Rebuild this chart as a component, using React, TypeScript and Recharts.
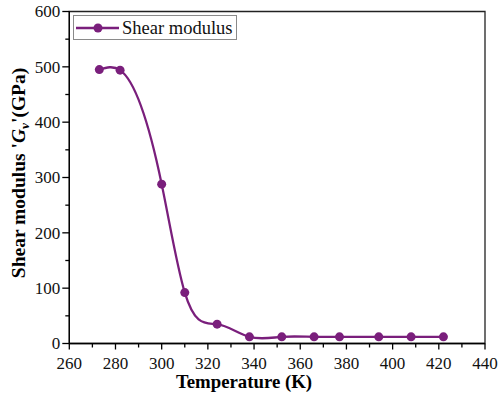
// Shear modulus vs temperature — Origin-style line plot with boxed frame,
// outward major/minor ticks and an inset legend.

import {
  LineChart,
  Line,
  XAxis,
  YAxis,
  Legend,
  ReferenceArea,
} from "recharts";

const temperatures = [273, 282, 300, 310, 324, 338, 352, 366, 377, 394, 408, 422];
const shearModulus = [495, 494, 288, 92, 35, 12, 12, 12, 12, 12, 12, 12];

// major ticks every 20 K / 100 GPa, minor halfway between
const xTicks = [260, 270, 280, 290, 300, 310, 320, 330, 340, 350, 360, 370, 380, 390, 400, 410, 420, 430, 440];
const yTicks = [0, 50, 100, 150, 200, 250, 300, 350, 400, 450, 500, 550, 600];

const data = temperatures.map((t, i) => ({ t, g: shearModulus[i] }));

const PURPLE = "#7a1f7c";
const FONT = '"Liberation Serif", "Times New Roman", serif';

// Origin's "spline" connector is a natural cubic spline of y over x
// (not the parametric one d3/recharts "natural" gives), so build it here.
const splineInX = (context: any) => {
  let xs: number[] = [];
  let ys: number[] = [];
  return {
    areaStart() {},
    areaEnd() {},
    lineStart() {
      xs = [];
      ys = [];
    },
    point(x: number, y: number) {
      xs.push(+x);
      ys.push(+y);
    },
    lineEnd() {
      const n = xs.length;
      if (!n) return;
      context.moveTo(xs[0], ys[0]);
      if (n < 3) {
        if (n === 2) context.lineTo(xs[1], ys[1]);
        return;
      }
      const h: number[] = [];
      for (let i = 0; i < n - 1; i++) h[i] = xs[i + 1] - xs[i];
      const M = new Array(n).fill(0);
      const a: number[] = [], b: number[] = [], c: number[] = [], r: number[] = [];
      for (let i = 1; i < n - 1; i++) {
        a[i] = h[i - 1];
        b[i] = 2 * (h[i - 1] + h[i]);
        c[i] = h[i];
        r[i] = 6 * ((ys[i + 1] - ys[i]) / h[i] - (ys[i] - ys[i - 1]) / h[i - 1]);
      }
      for (let i = 2; i < n - 1; i++) {
        const m = a[i] / b[i - 1];
        b[i] -= m * c[i - 1];
        r[i] -= m * r[i - 1];
      }
      M[n - 2] = r[n - 2] / b[n - 2];
      for (let i = n - 3; i >= 1; i--) M[i] = (r[i] - c[i] * M[i + 1]) / b[i];
      for (let i = 0; i < n - 1; i++) {
        const s = (ys[i + 1] - ys[i]) / h[i];
        const d0 = s - (h[i] * (2 * M[i] + M[i + 1])) / 6;
        const d1 = s + (h[i] * (M[i] + 2 * M[i + 1])) / 6;
        context.bezierCurveTo(
          xs[i] + h[i] / 3,
          ys[i] + (h[i] * d0) / 3,
          xs[i + 1] - h[i] / 3,
          ys[i + 1] - (h[i] * d1) / 3,
          xs[i + 1],
          ys[i + 1]
        );
      }
    },
  };
};

const XTick = ({ x, y, payload }: any) => {
  const major = payload.value % 20 === 0;
  return (
    <g>
      <line x1={x} x2={x} y1={y} y2={y + (major ? 6 : 4)} stroke="#000" strokeWidth={1.3} />
      {major && (
        <text x={x} y={y + 25} textAnchor="middle" style={{ fontFamily: FONT, fontSize: 17 }} fill="#111">
          {payload.value}
        </text>
      )}
    </g>
  );
};

const YTick = ({ x, y, payload }: any) => {
  const major = payload.value % 100 === 0;
  return (
    <g>
      <line x1={x} x2={x - (major ? 7 : 4)} y1={y} y2={y} stroke="#000" strokeWidth={1.3} />
      {major && (
        <text x={x - 9} y={y} dy="0.35em" textAnchor="end" style={{ fontFamily: FONT, fontSize: 17 }} fill="#111">
          {payload.value}
        </text>
      )}
    </g>
  );
};

const XTitle = () => (
  <text x={244} y={388} textAnchor="middle" style={{ fontFamily: FONT, fontSize: 18.8, fontWeight: "bold" }} fill="#000">
    Temperature (K)
  </text>
);

const YTitle = () => (
  <text
    x={25}
    y={173}
    transform="rotate(-90 25 173)"
    textAnchor="middle"
    style={{ fontFamily: FONT, fontSize: 19.5, fontWeight: "bold" }}
    fill="#000"
  >
    <tspan>Shear modulus '</tspan>
    <tspan fontStyle="italic">G</tspan>
    <tspan fontStyle="italic" fontSize={13.5} dy={4}>v</tspan>
    <tspan dy={-4}>'(GPa)</tspan>
  </text>
);

const LegendBox = () => (
  <div
    style={{
      width: 164,
      height: 25,
      border: "1px solid #8a8a8a",
      background: "#fff",
      display: "flex",
      alignItems: "center",
      boxSizing: "border-box",
    }}
  >
    <svg width={48} height={22} style={{ display: "block" }}>
      <line x1={2} x2={45} y1={11} y2={11} stroke={PURPLE} strokeWidth={2.3} />
      <circle cx={24} cy={11} r={4.5} fill={PURPLE} />
    </svg>
    <span style={{ fontFamily: FONT, fontSize: 18.5, color: "#111", lineHeight: "22px" }}>
      Shear modulus
    </span>
  </div>
);

export default function App() {
  return (
    <div style={{ position: "absolute", left: 0, top: 0 }}>
      <LineChart
        width={498}
        height={398}
        data={data}
        margin={{ top: 11.5, right: 13, bottom: 0, left: 0 }}
      >
        <XAxis
          dataKey="t"
          type="number"
          domain={[260, 440]}
          ticks={xTicks}
          interval={0}
          tickSize={0}
          tickMargin={0}
          tick={<XTick />}
          axisLine={{ stroke: "#000", strokeWidth: 1.3 }}
          height={54.5}
          label={<XTitle />}
        />
        <YAxis
          type="number"
          domain={[0, 600]}
          ticks={yTicks}
          interval={0}
          tickSize={0}
          tickMargin={0}
          tick={<YTick />}
          axisLine={{ stroke: "#000", strokeWidth: 1.3 }}
          width={69.3}
          label={<YTitle />}
        />
        {/* box frame: top and right edges */}
        <ReferenceArea x1={260} x2={440} y1={0} y2={600} fill="none" stroke="#222" strokeWidth={1.3} />
        <Legend
          verticalAlign="middle"
          align="center"
          content={<LegendBox />}
          wrapperStyle={{ left: 73, top: 15, width: 164, height: 25 }}
        />
        <Line
          type={splineInX as any}
          dataKey="g"
          stroke={PURPLE}
          strokeWidth={2.3}
          dot={{ r: 4.5, fill: PURPLE, stroke: "none" }}
          activeDot={false}
          isAnimationActive={false}
        />
      </LineChart>
    </div>
  );
}
